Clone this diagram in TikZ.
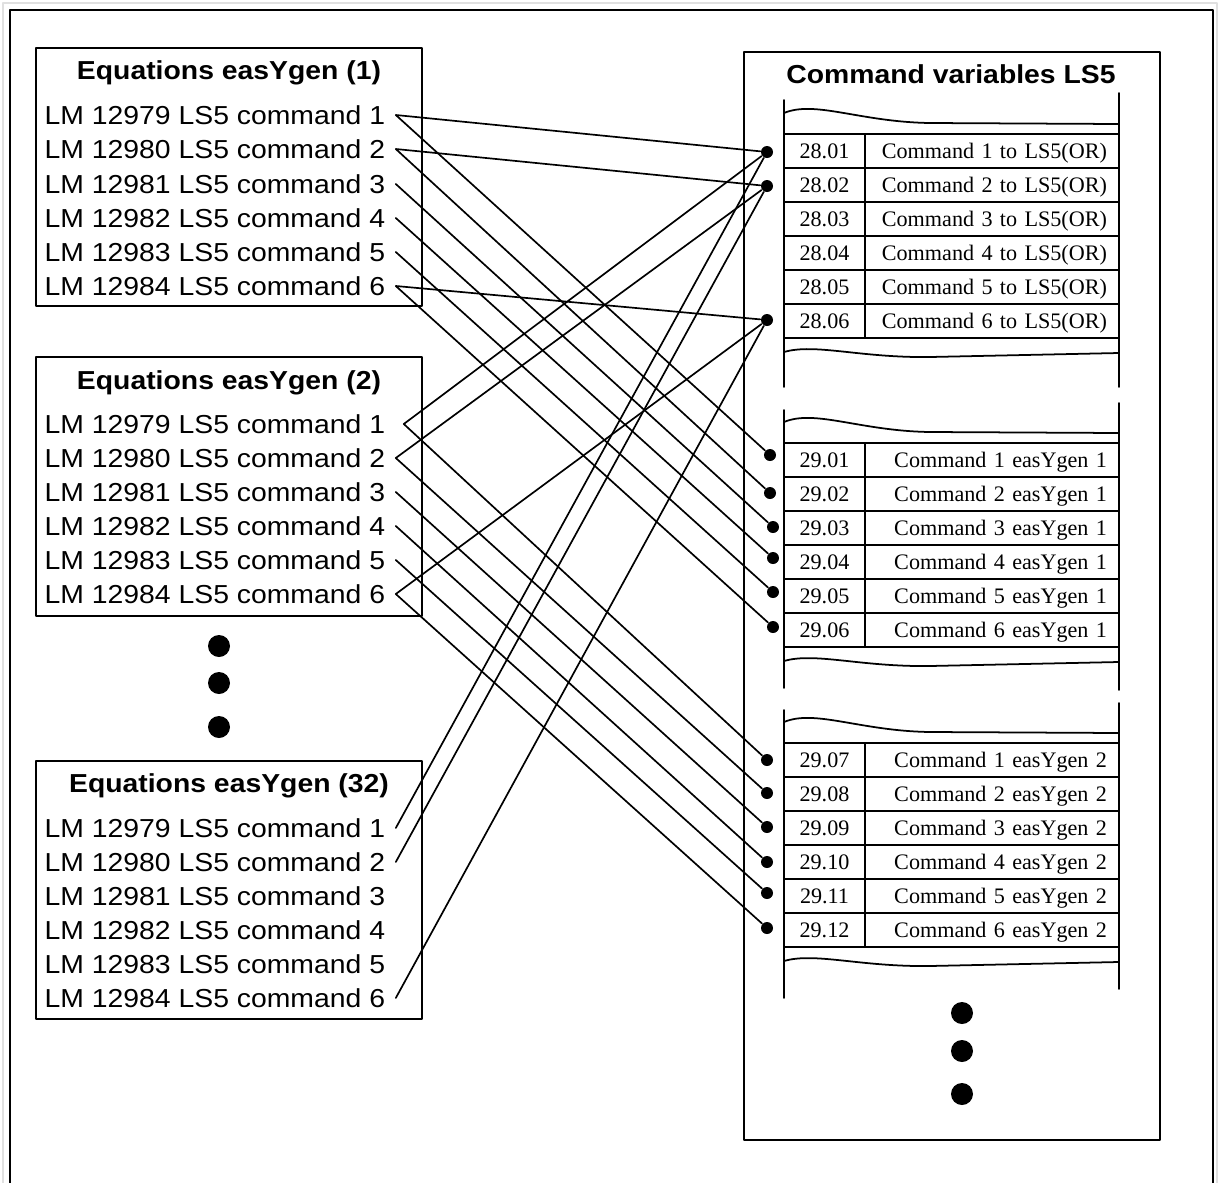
\documentclass[tikz,border=0pt]{standalone}
\usepackage{fontspec}
\setmainfont{Liberation Serif}
\newfontfamily\armfont[FakeStretch=1.09]{Liberation Sans}

\begin{document}
\begin{tikzpicture}[line cap=round, line join=round,
    eqbox/.style={line width=0.5pt},
    eqhead/.style={inner sep=0pt, font=\armfont\bfseries\fontsize{7.4}{8.9}\selectfont},
    eqrow/.style={anchor=west, inner xsep=0.1cm, inner ysep=0pt, text height=0.19cm,
      text depth=0pt, font=\armfont\fontsize{7.4}{8.9}\selectfont},
    numcell/.style={draw, line width=0.5pt, minimum width=0.81cm, minimum height=0.34cm,
      inner sep=0pt, text height=0.145cm, text depth=0pt, font=\fontsize{6.3}{7.5}\selectfont},
    txtcell/.style={draw, line width=0.5pt, minimum height=0.34cm, text width=2.30cm,
      align=right, inner xsep=0.12cm, inner ysep=0pt, text height=0.19cm, text depth=0.05cm,
      font=\fontsize{6.3}{7.5}\selectfont},
    tape/.style={line width=0.5pt},
    pin/.style={circle, fill, inner sep=0pt, minimum size=0.12cm},
    wire/.style={line width=0.48pt}]
  \useasboundingbox (0,0) rectangle (12.20,-11.83);
  \draw[black!12, line width=0.6pt] (0.03,-11.90) -- (0.03,-0.03) -- (12.17,-0.03) -- (12.17,-11.90);
  \draw[eqbox] (0.10,-11.90) -- (0.10,-0.10) -- (12.13,-0.10) -- (12.13,-11.90);
  % equations easYgen (1)
  \draw[eqbox] (0.36,-0.48) rectangle (4.22,-3.06);
  \node[eqhead] (ta) at (2.29,-0.73) {Equations easYgen (1)};
  \node[eqrow] (a1) at (0.34,-1.15) {LM 12979 LS5 command 1};
  \node[eqrow] (a2) at (0.34,-1.49) {LM 12980 LS5 command 2};
  \node[eqrow] (a3) at (0.34,-1.84) {LM 12981 LS5 command 3};
  \node[eqrow] (a4) at (0.34,-2.18) {LM 12982 LS5 command 4};
  \node[eqrow] (a5) at (0.34,-2.52) {LM 12983 LS5 command 5};
  \node[eqrow] (a6) at (0.34,-2.86) {LM 12984 LS5 command 6};
  % equations easYgen (2)
  \draw[eqbox] (0.36,-3.57) rectangle (4.22,-6.16);
  \node[eqhead] (tb) at (2.29,-3.83) {Equations easYgen (2)};
  \node[eqrow] (b1) at (0.34,-4.24) {LM 12979 LS5 command 1};
  \node[eqrow] (b2) at (0.34,-4.58) {LM 12980 LS5 command 2};
  \node[eqrow] (b3) at (0.34,-4.92) {LM 12981 LS5 command 3};
  \node[eqrow] (b4) at (0.34,-5.26) {LM 12982 LS5 command 4};
  \node[eqrow] (b5) at (0.34,-5.60) {LM 12983 LS5 command 5};
  \node[eqrow] (b6) at (0.34,-5.94) {LM 12984 LS5 command 6};
  \fill (2.19,-6.46) circle (0.11);
  \fill (2.19,-6.83) circle (0.11);
  \fill (2.19,-7.27) circle (0.11);
  % equations easYgen (32)
  \draw[eqbox] (0.36,-7.61) rectangle (4.22,-10.19);
  \node[eqhead] (tz) at (2.29,-7.86) {Equations easYgen (32)};
  \node[eqrow] (z1) at (0.34,-8.28) {LM 12979 LS5 command 1};
  \node[eqrow] (z2) at (0.34,-8.62) {LM 12980 LS5 command 2};
  \node[eqrow] (z3) at (0.34,-8.96) {LM 12981 LS5 command 3};
  \node[eqrow] (z4) at (0.34,-9.30) {LM 12982 LS5 command 4};
  \node[eqrow] (z5) at (0.34,-9.64) {LM 12983 LS5 command 5};
  \node[eqrow] (z6) at (0.34,-9.98) {LM 12984 LS5 command 6};
  % command variables LS5
  \draw[eqbox] (7.44,-0.52) rectangle (11.60,-11.40);
  \node[eqhead] (tv) at (9.51,-0.74) {Command variables LS5};
  % 28.xx
  \draw[tape] (7.84,-1.00) -- (7.84,-3.87);
  \draw[tape] (11.19,-0.93) -- (11.19,-3.87);
  \draw[tape] (7.84,-1.13) .. controls (8.15,-1.00) and (8.60,-1.22) .. (9.30,-1.23) -- (11.19,-1.24);
  \draw[tape] (7.84,-3.52) .. controls (8.15,-3.43) and (8.60,-3.58) .. (9.30,-3.57) -- (11.19,-3.53);
  \node[numcell] (n2801) at (8.245,-1.51) {28.01};
  \node[txtcell] (t2801) at (9.92,-1.51) {Command 1 to LS5(OR)};
  \node[numcell] (n2802) at (8.245,-1.85) {28.02};
  \node[txtcell] (t2802) at (9.92,-1.85) {Command 2 to LS5(OR)};
  \node[numcell] (n2803) at (8.245,-2.19) {28.03};
  \node[txtcell] (t2803) at (9.92,-2.19) {Command 3 to LS5(OR)};
  \node[numcell] (n2804) at (8.245,-2.53) {28.04};
  \node[txtcell] (t2804) at (9.92,-2.53) {Command 4 to LS5(OR)};
  \node[numcell] (n2805) at (8.245,-2.87) {28.05};
  \node[txtcell] (t2805) at (9.92,-2.87) {Command 5 to LS5(OR)};
  \node[numcell] (n2806) at (8.245,-3.21) {28.06};
  \node[txtcell] (t2806) at (9.92,-3.21) {Command 6 to LS5(OR)};
  % 29.01 - 29.06
  \draw[tape] (7.84,-4.10) -- (7.84,-6.88);
  \draw[tape] (11.19,-4.03) -- (11.19,-6.90);
  \draw[tape] (7.84,-4.22) .. controls (8.15,-4.09) and (8.60,-4.31) .. (9.30,-4.32) -- (11.19,-4.33);
  \draw[tape] (7.84,-6.61) .. controls (8.15,-6.52) and (8.60,-6.67) .. (9.30,-6.66) -- (11.19,-6.62);
  \node[numcell] (n2901) at (8.245,-4.60) {29.01};
  \node[txtcell] (t2901) at (9.92,-4.60) {Command 1 easYgen 1};
  \node[numcell] (n2902) at (8.245,-4.94) {29.02};
  \node[txtcell] (t2902) at (9.92,-4.94) {Command 2 easYgen 1};
  \node[numcell] (n2903) at (8.245,-5.28) {29.03};
  \node[txtcell] (t2903) at (9.92,-5.28) {Command 3 easYgen 1};
  \node[numcell] (n2904) at (8.245,-5.62) {29.04};
  \node[txtcell] (t2904) at (9.92,-5.62) {Command 4 easYgen 1};
  \node[numcell] (n2905) at (8.245,-5.96) {29.05};
  \node[txtcell] (t2905) at (9.92,-5.96) {Command 5 easYgen 1};
  \node[numcell] (n2906) at (8.245,-6.30) {29.06};
  \node[txtcell] (t2906) at (9.92,-6.30) {Command 6 easYgen 1};
  % 29.07 - 29.12
  \draw[tape] (7.84,-7.10) -- (7.84,-9.98);
  \draw[tape] (11.19,-7.03) -- (11.19,-9.89);
  \draw[tape] (7.84,-7.22) .. controls (8.15,-7.09) and (8.60,-7.31) .. (9.30,-7.32) -- (11.19,-7.33);
  \draw[tape] (7.84,-9.61) .. controls (8.15,-9.52) and (8.60,-9.67) .. (9.30,-9.66) -- (11.19,-9.62);
  \node[numcell] (n2907) at (8.245,-7.60) {29.07};
  \node[txtcell] (t2907) at (9.92,-7.60) {Command 1 easYgen 2};
  \node[numcell] (n2908) at (8.245,-7.94) {29.08};
  \node[txtcell] (t2908) at (9.92,-7.94) {Command 2 easYgen 2};
  \node[numcell] (n2909) at (8.245,-8.28) {29.09};
  \node[txtcell] (t2909) at (9.92,-8.28) {Command 3 easYgen 2};
  \node[numcell] (n2910) at (8.245,-8.62) {29.10};
  \node[txtcell] (t2910) at (9.92,-8.62) {Command 4 easYgen 2};
  \node[numcell] (n2911) at (8.245,-8.96) {29.11};
  \node[txtcell] (t2911) at (9.92,-8.96) {Command 5 easYgen 2};
  \node[numcell] (n2912) at (8.245,-9.30) {29.12};
  \node[txtcell] (t2912) at (9.92,-9.30) {Command 6 easYgen 2};
  \fill (9.62,-10.13) circle (0.11);
  \fill (9.62,-10.51) circle (0.11);
  \fill (9.62,-10.94) circle (0.11);
  % connection points
  \node[pin] (p2801) at (7.67,-1.52) {};
  \node[pin] (p2802) at (7.67,-1.86) {};
  \node[pin] (p2806) at (7.67,-3.20) {};
  \node[pin] (p2901) at (7.70,-4.55) {};
  \node[pin] (p2902) at (7.70,-4.93) {};
  \node[pin] (p2903) at (7.73,-5.27) {};
  \node[pin] (p2904) at (7.73,-5.58) {};
  \node[pin] (p2905) at (7.73,-5.92) {};
  \node[pin] (p2906) at (7.73,-6.27) {};
  \node[pin] (p2907) at (7.67,-7.60) {};
  \node[pin] (p2908) at (7.67,-7.93) {};
  \node[pin] (p2909) at (7.67,-8.27) {};
  \node[pin] (p2910) at (7.67,-8.62) {};
  \node[pin] (p2911) at (7.67,-8.93) {};
  \node[pin] (p2912) at (7.67,-9.28) {};
  % wiring
  \draw[wire] (p2801) -- (a1.east) -- (p2901);
  \draw[wire] (p2802) -- (a2.east) -- (p2902);
  \draw[wire] (a3.east) -- (p2903);
  \draw[wire] (a4.east) -- (p2904);
  \draw[wire] (a5.east) -- (p2905);
  \draw[wire] (p2806) -- (a6.east) -- (p2906);
  \draw[wire] (p2801) -- ([xshift=0.08cm]b1.east) -- (p2907);
  \draw[wire] (p2802) -- (b2.east) -- (p2908);
  \draw[wire] (b3.east) -- (p2909);
  \draw[wire] (b4.east) -- (p2910);
  \draw[wire] (b5.east) -- (p2911);
  \draw[wire] (p2806) -- (b6.east) -- (p2912);
  \draw[wire] (z1.east) -- (p2801);
  \draw[wire] (z2.east) -- (p2802);
  \draw[wire] (z6.east) -- (p2806);
\end{tikzpicture}
\end{document}
